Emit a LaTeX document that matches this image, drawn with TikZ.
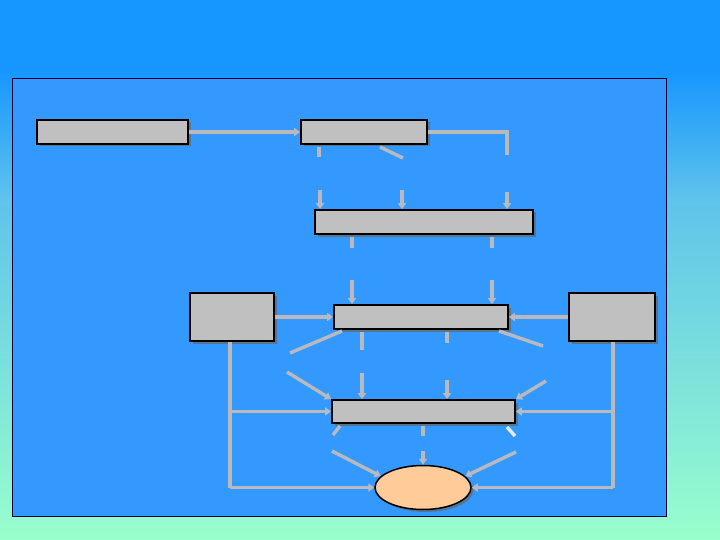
\documentclass[tikz,border=0pt]{standalone}
\usetikzlibrary{arrows.meta,shadows,shapes.geometric}
\definecolor{skyA}{RGB}{22,150,255}
\definecolor{skyB}{RGB}{95,195,235}
\definecolor{mint}{RGB}{153,255,204}
\definecolor{panel}{RGB}{51,153,255}
\definecolor{silver}{RGB}{192,192,192}
\definecolor{wire}{RGB}{185,185,190}
\definecolor{peach}{RGB}{255,204,153}
\begin{document}
\begin{tikzpicture}[x=1pt, y=-1pt,
	box/.style={rectangle, draw=black, line width=1.8pt, fill=silver, inner sep=0pt, drop shadow={shadow xshift=2.5pt, shadow yshift=-2.5pt, fill=black!60, opacity=0.7}},
	goal/.style={ellipse, draw=black, line width=1.5pt, fill=peach, inner sep=0pt, drop shadow={shadow xshift=2.5pt, shadow yshift=-2.5pt, fill=black!60, opacity=0.7}},
	link/.style={draw=wire, line width=3.4pt},
	arr/.style={link, -{Triangle[length=6pt, width=8pt]}}]
	% background and panel
	\fill[skyA] (0,0) rectangle (720,70);
	\shade[top color=skyA, bottom color=skyB] (0,70) rectangle (720,200);
	\shade[top color=skyB, bottom color=mint] (0,200) rectangle (720,540);
	\draw[fill=panel, draw=black!80!blue, line width=0.8pt] (12,78) rectangle (666,516);
	\useasboundingbox (0,0) rectangle (720,540);
	% boxes
	\node[box, minimum width=151pt, minimum height=24pt] (A) at (112.5,132) {};
	\node[box, minimum width=126pt, minimum height=24pt] (B) at (364,132) {};
	\node[box, minimum width=218pt, minimum height=24pt] (C) at (424,222) {};
	\node[box, minimum width=174pt, minimum height=24pt] (D) at (421,317) {};
	\node[box, minimum width=84pt, minimum height=48pt] (L) at (232,317) {};
	\node[box, minimum width=86pt, minimum height=48pt] (R) at (612,317) {};
	\node[box, minimum width=183pt, minimum height=23pt] (E) at (423.5,411.5) {};
	\node[goal, minimum width=96pt, minimum height=44pt] (F) at (423,487.5) {};
	% free ends
	\coordinate (b1) at (319,157);
	\coordinate (b2) at (403,158);
	\coordinate (b3) at (507,155);
	\coordinate (c1) at (320,190);
	\coordinate (c2) at (402,190);
	\coordinate (c3) at (507,192);
	\coordinate (d1) at (352,248);
	\coordinate (d2) at (492,248);
	\coordinate (e1) at (352,280);
	\coordinate (e2) at (492,280);
	\coordinate (f1) at (290,353);
	\coordinate (f2) at (362,350);
	\coordinate (f3) at (447,343);
	\coordinate (f4) at (543,346);
	\coordinate (g1) at (287,372);
	\coordinate (g2) at (362,373);
	\coordinate (g3) at (447,380);
	\coordinate (g4) at (546,381);
	\coordinate (h1) at (333,435);
	\coordinate (h2) at (423,436);
	\coordinate (h3) at (515,436);
	\coordinate (k1) at (332,451);
	\coordinate (k2) at (423,451);
	\coordinate (k3) at (516,452);
	\coordinate (lb) at (230,487.5);
	\coordinate (rb) at (613,487.5);
	% connectors
	\draw[arr] (A) -- (B);
	\draw[link] (B.east) -| (b3);
	\draw[link] (b1 |- B.south) ++(0,2) -- (b1);
	\draw[link] (380,147) -- (b2);
	\draw[arr] (c1) -- (c1 |- C.north);
	\draw[arr] (c2) -- (c2 |- C.north);
	\draw[arr] (c3) -- (c3 |- C.north);
	\draw[link] (d1 |- C.south) ++(0,2) -- (d1);
	\draw[link] (d2 |- C.south) ++(0,2) -- (d2);
	\draw[arr] (e1) -- (e1 |- D.north);
	\draw[arr] (e2) -- (e2 |- D.north);
	\draw[arr] (L) -- (D);
	\draw[arr] (R) -- (D);
	\draw[link] (342,331) -- (f1);
	\draw[link] (f2 |- D.south) ++(0,2) -- (f2);
	\draw[link] (f3 |- D.south) ++(0,2) -- (f3);
	\draw[link] (499,331) -- (f4);
	\draw[arr] (g1) -- (E.north west);
	\draw[arr] (g2) -- (g2 |- E.north);
	\draw[arr] (g3) -- (g3 |- E.north);
	\draw[arr] (g4) -- (E.north east);
	\draw[link] (L.south -| lb) -- (lb);
	\draw[arr] (lb) -- (F.west);
	\draw[arr] (lb |- E.west) -- (E.west);
	\draw[link] (R.south -| rb) -- (rb);
	\draw[arr] (rb) -- (F.east);
	\draw[arr] (rb |- E.east) -- (E.east);
	\draw[link] (340,426) -- (h1);
	\draw[link] (h2 |- E.south) ++(0,2) -- (h2);
	\draw[link, draw=white!70!wire] (507,427) -- (h3);
	\draw[arr] (k1) -- (F.165);
	\draw[arr] (k2) -- (F.north);
	\draw[arr] (k3) -- (F.15);
\end{tikzpicture}
\end{document}
